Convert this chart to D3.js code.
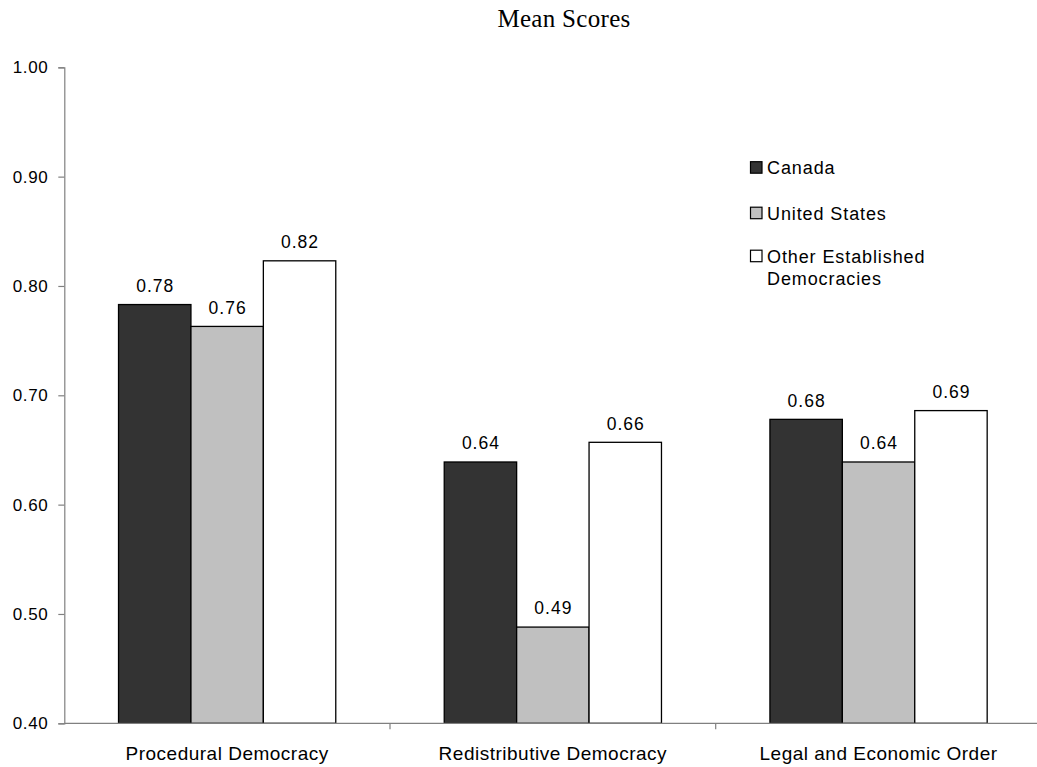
<!DOCTYPE html>
<html>
<head>
<meta charset="utf-8">
<script src="https://cdn.jsdelivr.net/npm/d3@7"></script>
<style>
  html, body { margin: 0; padding: 0; background: #fff; }
  svg { display: block; }
</style>
</head>
<body>
<svg id="chart" width="1037" height="767"></svg>
<script>
// Mean scores by dimension of democracy
const categories = ["Procedural Democracy", "Redistributive Democracy", "Legal and Economic Order"];
const seriesNames = ["Canada", "United States", "Other Established Democracies"];
const canada = [0.783, 0.639, 0.678];
const unitedStates = [0.763, 0.488, 0.639];
const otherDemocracies = [0.823, 0.657, 0.686];
const yTicks = [0.40, 0.50, 0.60, 0.70, 0.80, 0.90, 1.00];

const seriesValues = [canada, unitedStates, otherDemocracies];
const fills = ["#333333", "#c0c0c0", "#ffffff"];

const svg = d3.select("#chart");
const plotLeft = 64.3, plotRight = 1041.4, plotTop = 67.3, plotBottom = 723.3;

const y = d3.scaleLinear().domain([0.4, 1.0]).range([plotBottom, plotTop]);
const x0 = d3.scaleBand().domain(categories).range([plotLeft, plotRight]).padding(0);
const bw = x0.bandwidth();
const x1 = d3.scaleBand().domain(seriesNames).range([bw * 0.1665, bw * 0.8335]).padding(0);

const fmt = d3.format(".2f");
const axisColor = "#808080";
const sans = "'Liberation Sans', Arial, sans-serif";

// Title
svg.append("text")
  .attr("x", 564).attr("y", 26.5)
  .attr("text-anchor", "middle")
  .style("font-family", "'Liberation Serif', 'Times New Roman', serif")
  .style("font-size", "25px")
  .style("letter-spacing", "0.3px")
  .attr("fill", "#000")
  .text("Mean Scores");

// Bars
const groups = svg.append("g").selectAll("g")
  .data(categories)
  .join("g")
  .attr("transform", d => `translate(${x0(d)},0)`);

groups.each(function(cat, ci) {
  const g = d3.select(this);
  seriesNames.forEach((s, si) => {
    const v = seriesValues[si][ci];
    g.append("rect")
      .attr("x", x1(s))
      .attr("y", y(v))
      .attr("width", x1.bandwidth())
      .attr("height", y(0.4) - y(v))
      .attr("fill", fills[si])
      .attr("stroke", "#000")
      .attr("stroke-width", 1.3);
    g.append("text")
      .attr("x", x1(s) + x1.bandwidth() / 2 + 0.5)
      .attr("y", y(v) - 12.6)
      .attr("text-anchor", "middle")
      .style("font-family", sans)
      .style("font-size", "17.5px")
      .style("letter-spacing", "1px")
      .attr("fill", "#000")
      .text(fmt(v));
  });
});

// Y axis
const yAxis = d3.axisLeft(y).tickValues(yTicks).tickFormat(fmt).tickSize(6).tickPadding(10);
const yg = svg.append("g").attr("transform", `translate(${plotLeft},0)`).call(yAxis);
yg.select(".domain").attr("stroke", axisColor).attr("stroke-width", 1.2);
yg.selectAll(".tick line").attr("stroke", axisColor).attr("stroke-width", 1.2);
yg.selectAll(".tick text")
  .style("font-family", sans)
  .style("font-size", "17px")
  .style("letter-spacing", "0.6px")
  .attr("fill", "#000");

// X axis with ticks between categories
const xAxisLine = svg.append("g");
xAxisLine.append("line")
  .attr("x1", plotLeft).attr("x2", plotRight)
  .attr("y1", plotBottom).attr("y2", plotBottom)
  .attr("stroke", axisColor).attr("stroke-width", 1.2);
xAxisLine.selectAll("line.sep")
  .data(categories.slice(1))
  .join("line")
  .attr("class", "sep")
  .attr("x1", d => x0(d)).attr("x2", d => x0(d))
  .attr("y1", plotBottom).attr("y2", plotBottom + 6)
  .attr("stroke", axisColor).attr("stroke-width", 1.2);
xAxisLine.selectAll("text")
  .data(categories)
  .join("text")
  .attr("x", d => x0(d) + bw / 2)
  .attr("y", 760)
  .attr("text-anchor", "middle")
  .style("font-family", sans)
  .style("font-size", "19px")
  .style("letter-spacing", "0.5px")
  .attr("fill", "#000")
  .text(d => d);

// Legend
const legendRows = [
  { fill: fills[0], lines: ["Canada"], cy: 167.5 },
  { fill: fills[1], lines: ["United States"], cy: 213 },
  { fill: fills[2], lines: ["Other Established", "Democracies"], cy: 256 }
];
const legend = svg.append("g");
legendRows.forEach(r => {
  legend.append("rect")
    .attr("x", 750.5).attr("y", r.cy - 5.8)
    .attr("width", 11.5).attr("height", 11.5)
    .attr("fill", r.fill).attr("stroke", "#000").attr("stroke-width", 1.2);
  const t = legend.append("text")
    .attr("x", 767).attr("y", r.cy + 6.5)
    .style("font-family", sans)
    .style("font-size", "18px")
    .style("letter-spacing", "0.9px")
    .attr("fill", "#000");
  r.lines.forEach((ln, i) => {
    t.append("tspan").attr("x", 767).attr("dy", i === 0 ? 0 : 22.5).text(ln);
  });
});
</script>
</body>
</html>
